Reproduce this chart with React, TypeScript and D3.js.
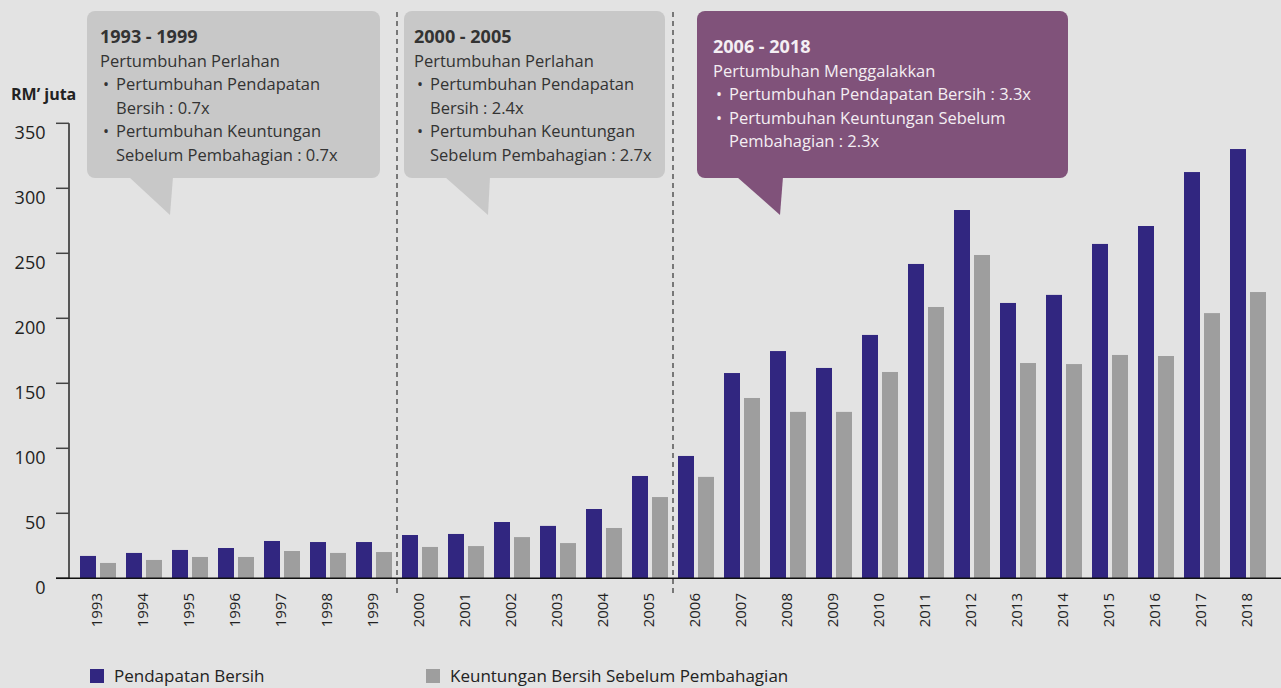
import React from "react";
import * as d3 from "d3";

const years = ["1993","1994","1995","1996","1997","1998","1999","2000","2001","2002","2003","2004","2005","2006","2007","2008","2009","2010","2011","2012","2013","2014","2015","2016","2017","2018"];
const pendapatanBersih = [17.2,19.5,21.8,23.3,28.7,27.9,27.9,33.3,34.1,43.3,40.3,53.3,78.7,94.1,157.9,174.8,161.8,187.2,241.8,283.3,211.8,218,257.2,271,312.5,330.2];
const keuntunganBersih = [11.8,14.1,16.4,16.4,21.0,19.5,20.2,24.1,24.8,31.7,27.1,38.7,62.5,78.0,138.7,128,128,158.7,208.7,248.7,165.6,164.8,171.8,171,204,220.2];
const yTicks = [0,50,100,150,200,250,300,350];
const seriesNames = ["Pendapatan Bersih","Keuntungan Bersih Sebelum Pembahagian"];
const seriesColors = ["#312680","#9e9e9e"];
const periodBreaks = ["2000","2006"];

const callouts = [
  { title: "1993 - 1999", subtitle: "Pertumbuhan Perlahan",
    bullets: [["Pertumbuhan Pendapatan","Bersih : 0.7x"],["Pertumbuhan Keuntungan","Sebelum Pembahagian : 0.7x"]],
    box: [87, 11, 380, 178], tail: [129, 173, 170, 215], fill: "#c8c8c8", color: "#333333", tx: 100, dy0: 43 },
  { title: "2000 - 2005", subtitle: "Pertumbuhan Perlahan",
    bullets: [["Pertumbuhan Pendapatan","Bersih : 2.4x"],["Pertumbuhan Keuntungan","Sebelum Pembahagian : 2.7x"]],
    box: [404, 11, 665, 178], tail: [445, 490, 488, 215], fill: "#c8c8c8", color: "#333333", tx: 414, dy0: 43 },
  { title: "2006 - 2018", subtitle: "Pertumbuhan Menggalakkan",
    bullets: [["Pertumbuhan Pendapatan Bersih : 3.3x"],["Pertumbuhan Keuntungan Sebelum","Pembahagian : 2.3x"]],
    box: [697, 11, 1068, 178], tail: [737, 783, 780, 215], fill: "#80527a", color: "#f4eef3", tx: 713, dy0: 53 },
];

const W = 1281, H = 688;
const FONT = "'Open Sans', sans-serif";

export default function App() {
  const x = d3.scaleBand<string>().domain(years).range([75, 75 + 46 * 26]).paddingInner(10 / 46).paddingOuter(5 / 46);
  const xs = d3.scaleBand<number>().domain([0, 1]).range([0, x.bandwidth()]).paddingInner(0.2);
  const y = d3.scaleLinear().domain([0, 350]).range([578.3, 123.3]);
  const series = [pendapatanBersih, keuntunganBersih];

  const breakX = periodBreaks.map((yr) => (x(yr) as number) - (x.step() - x.bandwidth()) / 2);

  return (
    <svg width={W} height={H} style={{ position: "absolute", left: 0, top: 0, background: "#e3e3e3" }} fontFamily={FONT}>
      <rect x={0} y={0} width={W} height={H} fill="#e3e3e3" />
      {callouts.map((c, i) => {
        const [l, t, r, b] = c.box;
        const [t1, t2, ax, ay] = c.tail;
        const lh = 23.6;
        let line = 0;
        const texts: any[] = [];
        texts.push(<text key="t" x={c.tx} y={c.dy0} fontWeight={700} fontSize={18} fill={c.color}>{c.title}</text>);
        line++;
        texts.push(<text key="s" x={c.tx} y={c.dy0 + lh * line} fontSize={16.5} fill={c.color}>{c.subtitle}</text>);
        line++;
        c.bullets.forEach((bl, bi) => {
          texts.push(<text key={"b" + bi} x={c.tx + 3} y={c.dy0 + lh * line} fontSize={16} fill={c.color}>•</text>);
          bl.forEach((ln, li) => {
            texts.push(<text key={"b" + bi + "_" + li} x={c.tx + 16} y={c.dy0 + lh * line} fontSize={16.5} fill={c.color}>{ln}</text>);
            line++;
          });
        });
        return (
          <g key={i}>
            <rect x={l} y={t} width={r - l} height={b - t} rx={8} fill={c.fill} />
            <path d={`M${t1},${b - 1}L${t2},${b - 1}L${ax},${ay}Z`} fill={c.fill} />
            {texts}
          </g>
        );
      })}
      {breakX.map((bx, i) => (
        <line key={i} x1={bx} x2={bx} y1={12} y2={594} stroke="#555" strokeWidth={1.5} strokeDasharray="5,4" />
      ))}
      {years.map((yr, i) => (
        <g key={yr} transform={`translate(${x(yr)},0)`}>
          {series.map((s, si) => (
            <rect key={si} x={xs(si)} width={xs.bandwidth()} y={y(s[i])} height={y(0) - y(s[i])} fill={seriesColors[si]} />
          ))}
        </g>
      ))}
      <line x1={69} x2={69} y1={y(350)} y2={y(0)} stroke="#555" strokeWidth={2} />
      {yTicks.map((t) => (
        <g key={t}>
          <line x1={56} x2={69} y1={y(t)} y2={y(t)} stroke="#444" strokeWidth={1.5} />
          <text x={45.5} y={y(t) + 15.5} textAnchor="end" fontSize={18} fill="#222">{t}</text>
        </g>
      ))}
      <text x={11} y={100} fontSize={16} fontWeight={700} fill="#222">RM’ juta</text>
      <line x1={56} x2={W} y1={y(0)} y2={y(0)} stroke="#111" strokeWidth={1.5} />
      {years.map((yr) => {
        const cx = (x(yr) as number) + x.bandwidth() / 2 - 2;
        return (
          <text key={yr} transform={`translate(${cx},593) rotate(-90)`} textAnchor="end" dominantBaseline="central" fontSize={15} fill="#222">{yr}</text>
        );
      })}
      {seriesNames.map((n, i) => {
        const lx = i === 0 ? 90 : 426;
        return (
          <g key={n}>
            <rect x={lx} y={669} width={14} height={14} fill={seriesColors[i]} />
            <text x={lx + 24} y={682} fontSize={17} fill="#222">{n}</text>
          </g>
        );
      })}
    </svg>
  );
}
